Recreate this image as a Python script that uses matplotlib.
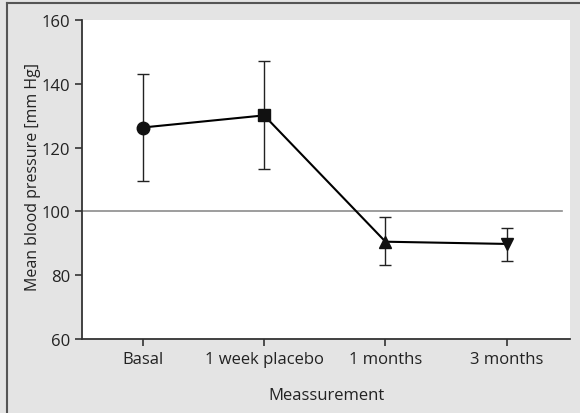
import matplotlib
matplotlib.use('Agg')
import matplotlib.pyplot as plt
from matplotlib.lines import Line2D

plt.rcParams['font.family'] = ['Open Sans', 'DejaVu Sans']

categories = ['Basal', '1 week placebo', '1 months', '3 months']
means = [126.3, 130.1, 90.5, 89.8]
upper = [143.0, 147.0, 98.3, 94.8]
lower = [109.5, 113.4, 83.1, 84.4]
markers = ['o', 's', '^', 'v']
reference = 100
yticks = [60, 80, 100, 120, 140, 160]

x = list(range(1, len(categories) + 1))
err_lo = [m - l for m, l in zip(means, lower)]
err_hi = [u - m for m, u in zip(means, upper)]

fig = plt.figure(figsize=(5.8, 4.14), dpi=100)
fig.patch.set_facecolor('#e4e4e4')
ax = fig.add_axes([82 / 580, 1 - 340 / 414, 488 / 580, 319 / 414])
ax.set_facecolor('white')

# frame of the panel (top and left edges)
fig.add_artist(Line2D([7 / 580, 1.0], [1 - 3.5 / 414, 1 - 3.5 / 414],
                      transform=fig.transFigure, color='#555555', lw=1.5))
fig.add_artist(Line2D([7 / 580, 7 / 580], [0.0, 1 - 3.5 / 414],
                      transform=fig.transFigure, color='#555555', lw=1.5))

ax.axhline(reference, xmin=0, xmax=0.984, color='#8c8c8c', lw=1.2, zorder=1)

ax.errorbar(x, means, yerr=[err_lo, err_hi], fmt='none', ecolor='#222222',
            elinewidth=1.0, capsize=4.5, capthick=1.0, zorder=2)
ax.plot(x, means, color='black', lw=1.5, zorder=3)
for xi, m, mk in zip(x, means, markers):
    size = 9 if mk in ('o', 's') else 8.5
    ax.plot(xi, m, marker=mk, color='#111111', markersize=size,
            linestyle='none', zorder=4)

ax.set_xlim(0.5, 4.52)
ax.set_ylim(60, 160)
ax.set_xticks(x)
ax.set_xticklabels(categories)
ax.set_yticks(yticks)

for side in ('top', 'right'):
    ax.spines[side].set_visible(False)
for side in ('left', 'bottom'):
    ax.spines[side].set_color('#333333')
    ax.spines[side].set_linewidth(1.3)

ax.tick_params(axis='both', direction='out', length=5, width=1.2,
               color='#333333', labelsize=12, labelcolor='#222222')
ax.tick_params(axis='x', pad=4)
ax.set_xlabel('Meassurement', fontsize=12, color='#222222', labelpad=14)
ax.set_ylabel('Mean blood pressure [mm Hg]', fontsize=11.5, color='#222222')
ax.yaxis.set_label_coords(-0.084, 0.51)

fig.savefig('out.png', dpi=100, facecolor=fig.get_facecolor())
